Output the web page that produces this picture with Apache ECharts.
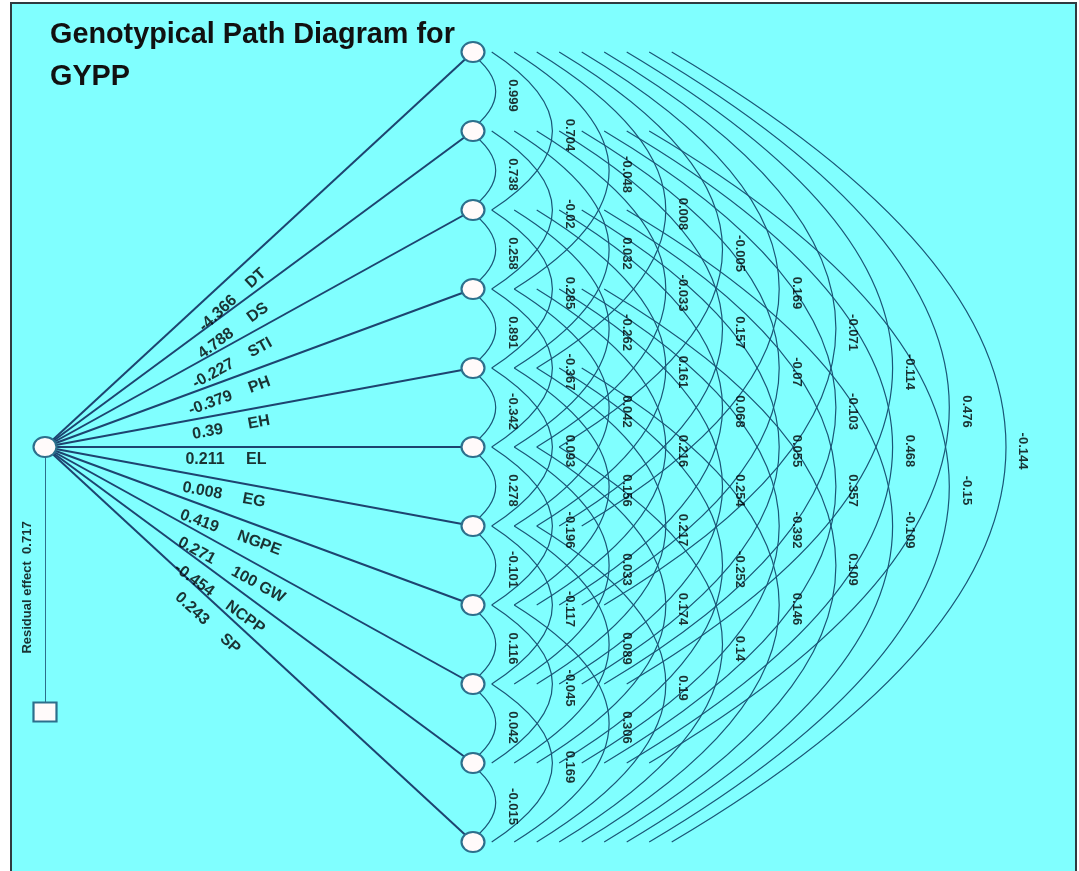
<!DOCTYPE html>
<html>
<head>
<meta charset="utf-8">
<script src="https://cdn.jsdelivr.net/npm/echarts@6/dist/echarts.min.js"></script>
<style>
  html, body { margin: 0; padding: 0; background: #fff; overflow: hidden; }
  #frame {
    position: absolute; left: 10px; top: 2px; width: 1063px; height: 900px;
    background: #80ffff; border: 2px solid #2f3b40; border-bottom: none;
  }
  #chart { position: absolute; left: 0; top: 0; width: 1079px; height: 871px; }
</style>
</head>
<body>
<div id="frame"></div>
<div id="chart"></div>
<script>
// --- data ---
const traits = ['DT', 'DS', 'STI', 'PH', 'EH', 'EL', 'EG', 'NGPE', '100 GW', 'NCPP', 'SP'];
const directEffects = [-4.366, 4.788, -0.227, -0.379, 0.39, 0.211, 0.008, 0.419, 0.271, -0.454, 0.243];
const residualEffect = 0.717;

// genotypic correlations, grouped by distance between traits (r[i][i+d])
const corrLag1 = [0.999, 0.738, 0.258, 0.891, -0.342, 0.278, -0.101, 0.116, 0.042, -0.015];
const corrLag2 = [0.704, -0.02, 0.285, -0.367, 0.093, -0.196, -0.117, -0.045, 0.169];
const corrLag3 = [-0.048, 0.032, -0.262, 0.042, 0.156, 0.033, 0.089, 0.306];
const corrLag4 = [0.008, -0.033, 0.161, 0.216, 0.217, 0.174, 0.19];
const corrLag5 = [-0.005, 0.157, 0.068, 0.254, -0.252, 0.14];
const corrLag6 = [0.169, -0.07, 0.055, -0.392, 0.146];
const corrLag7 = [-0.071, -0.103, 0.357, 0.109];
const corrLag8 = [-0.114, 0.468, -0.109];
const corrLag9 = [0.476, -0.15];
const corrLag10 = [-0.144];
const corrLags = [corrLag1, corrLag2, corrLag3, corrLag4, corrLag5, corrLag6, corrLag7, corrLag8, corrLag9, corrLag10];

const titleText = 'Genotypical Path Diagram for\nGYPP';

// --- layout (axis units == screen pixels) ---
const W = 1079, H = 871;
const ORIGIN = [45, 447];
const NODE_X = 473, NODE_TOP = 52, NODE_STEP = 79;
const RESID_Y = 712;
const ARC_X0 = 469.2, ARC_X_STEP = 22.5;     // where an arc leaves the node column
const APEX_X0 = 495.7, APEX_STEP = 56.7;     // right-most point of an arc
const FONT = '"Liberation Sans", Arial, sans-serif';
const ARC_COLOR = '#1a5676';
const FAN_COLOR = '#1d4470';
const NODE_BORDER = '#2c6f8c';
const TEXT_COLOR = '#000';

const nodeY = i => NODE_TOP + i * NODE_STEP;
const arcStartX = d => ARC_X0 + (d - 1) * ARC_X_STEP;
const arcApexX = d => APEX_X0 + (d - 1) * APEX_STEP;

// arcs + correlation labels
const arcData = [];
const corrLabels = [];
corrLags.forEach((vals, k) => {
  const d = k + 1;
  vals.forEach((r, i) => {
    const y1 = nodeY(i), y2 = nodeY(i + d);
    const xs = arcStartX(d);
    const curv = 2 * (arcApexX(d) - xs) / (y2 - y1);
    arcData.push({ coords: [[xs, y1], [xs, y2]], lineStyle: { curveness: curv } });
    corrLabels.push({ value: [arcApexX(d) + 17, (y1 + y2) / 2 + 4], name: String(r) });
  });
});

// fan of direct paths + their labels
const fanData = [];
const pathLabels = [];
traits.forEach((t, k) => {
  const end = [NODE_X, nodeY(k)];
  fanData.push({ coords: [ORIGIN, end] });
  const phi = Math.atan2(end[1] - ORIGIN[1], end[0] - ORIGIN[0]);
  const ux = Math.cos(phi), uy = Math.sin(phi);
  const px = -uy, py = ux;                 // side below the line
  const off = 13 + 9 * Math.abs(uy);
  const aVal = 160 / ux, aName = aVal + 41;
  const rot = -phi * 180 / Math.PI;
  pathLabels.push({
    value: [ORIGIN[0] + ux * aVal + px * off, ORIGIN[1] + uy * aVal + py * off],
    name: String(directEffects[k]),
    label: { rotate: rot, align: 'center' }
  });
  pathLabels.push({
    value: [ORIGIN[0] + ux * aName + px * off, ORIGIN[1] + uy * aName + py * off],
    name: t,
    label: { rotate: rot, align: 'left' }
  });
});

const residLine = [{ coords: [ORIGIN, [ORIGIN[0], RESID_Y]] }];
const nodePoints = traits.map((t, k) => [NODE_X, nodeY(k)]).concat([ORIGIN]);

const plainText = { textBorderWidth: 0, textShadowBlur: 0, color: TEXT_COLOR, fontFamily: FONT, fontWeight: 'bold' };

const chart = echarts.init(document.getElementById('chart'));
chart.setOption({
  backgroundColor: 'transparent',
  animation: false,
  title: {
    text: titleText,
    left: 45,
    top: 9,
    textStyle: { fontFamily: FONT, fontSize: 28.8, fontWeight: 'bold', lineHeight: 42, color: '#111' }
  },
  grid: { left: 0, right: 0, top: 0, bottom: 0 },
  xAxis: { type: 'value', min: 0, max: W, show: false },
  yAxis: { type: 'value', min: 0, max: H, inverse: true, show: false },
  series: [
    {
      type: 'lines', coordinateSystem: 'cartesian2d', silent: true, z: 1,
      lineStyle: { color: ARC_COLOR, width: 1.2, opacity: 1 },
      data: arcData
    },
    {
      type: 'lines', coordinateSystem: 'cartesian2d', silent: true, z: 2,
      lineStyle: { color: FAN_COLOR, width: 2, opacity: 1, curveness: 0 },
      data: fanData
    },
    {
      type: 'lines', coordinateSystem: 'cartesian2d', silent: true, z: 2,
      lineStyle: { color: NODE_BORDER, width: 1, opacity: 1, curveness: 0 },
      data: residLine
    },
    {
      type: 'scatter', silent: true, z: 3,
      symbol: 'circle', symbolSize: [23, 20],
      itemStyle: { color: '#fffafa', borderColor: NODE_BORDER, borderWidth: 2, opacity: 1 },
      data: nodePoints
    },
    {
      type: 'scatter', silent: true, z: 3,
      symbol: 'rect', symbolSize: [23, 19],
      itemStyle: { color: '#fffafa', borderColor: NODE_BORDER, borderWidth: 2, opacity: 1 },
      data: [[ORIGIN[0], RESID_Y]]
    },
    {
      type: 'scatter', silent: true, z: 4, symbolSize: 0,
      label: Object.assign({ show: true, position: 'inside', formatter: '{b}', rotate: -90, fontSize: 13 }, plainText),
      data: corrLabels
    },
    {
      type: 'scatter', silent: true, z: 4, symbolSize: 0,
      label: Object.assign({ show: true, position: 'inside', formatter: '{b}', verticalAlign: 'middle', fontSize: 16 }, plainText),
      data: pathLabels
    },
    {
      type: 'scatter', silent: true, z: 4, symbolSize: 0,
      label: Object.assign({ show: true, position: 'inside', formatter: '{b}', rotate: 90, fontSize: 13 }, plainText),
      data: [{ value: [ORIGIN[0] - 17.5, (ORIGIN[1] + RESID_Y) / 2 + 8], name: 'Residual effect  ' + residualEffect }]
    }
  ]
});
</script>
</body>
</html>
